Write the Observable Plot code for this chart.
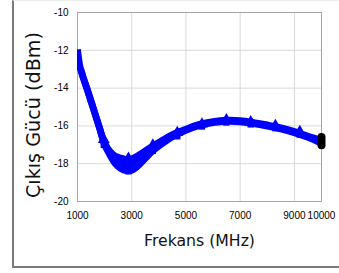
<!DOCTYPE html>
<html>
<head>
<meta charset="utf-8">
<script src="https://cdn.jsdelivr.net/npm/d3@7"></script>
<script src="https://cdn.jsdelivr.net/npm/@observablehq/plot@0.6"></script>
<style>
  html, body { margin: 0; padding: 0; background: #fff; }
  #wrap { position: relative; width: 339px; height: 273px; overflow: hidden; }
  #box { position: absolute; left: 12px; top: 0px; width: 330px; height: 265px;
         border-left: 2px solid #7a7a7a; border-bottom: 2px solid #7a7a7a; border-top: 1px solid #ececec; }
  #chart { position: absolute; left: 0; top: 0; }
</style>
</head>
<body>
<div id="wrap"><div id="box"></div><div id="chart"></div></div>
<script>
// Data
const freq = [1000, 1100, 1200, 1400, 1600, 1800, 2000, 2200, 2400, 2600, 2800, 3000, 3200, 3500, 3800, 4200, 4600, 5000, 5500, 6000, 6500, 7000, 7500, 8000, 8500, 9000, 9500, 10000];
const upperTrace = [-11.95, -12.92, -13.4, -14.25, -15.15, -16.05, -16.9, -17.35, -17.6, -17.7, -17.77, -17.75, -17.6, -17.32, -17.05, -16.7, -16.4, -16.17, -15.92, -15.77, -15.7, -15.72, -15.82, -15.95, -16.1, -16.3, -16.55, -16.76];
const lowerTrace = [-13.05, -12.98, -13.4, -14.25, -15.15, -16.05, -17.0, -17.55, -18.0, -18.26, -18.37, -18.35, -18.16, -17.72, -17.29, -16.86, -16.5, -16.23, -15.98, -15.83, -15.76, -15.78, -15.88, -16.01, -16.16, -16.36, -16.61, -16.92];

const markerFreq = [1970, 2880, 3780, 4680, 5590, 6490, 7390, 8300, 9200];
const markerUpper = [-16.72, -17.72, -17.02, -16.35, -15.9, -15.68, -15.78, -15.98, -16.3];
const markerLower = [-17.0, -18.4, -17.32, -16.55, -16.03, -15.82, -15.92, -16.12, -16.46];

const endFreq = 10000;
const endLow = -17.05;
const endHigh = -16.62;

const xTicks = [1000, 3000, 5000, 7000, 9000, 10000];
const yTicks = [-20, -18, -16, -14, -12, -10];
const xTitle = "Frekans (MHz)";
const yTitle = "Çıkış Gücü (dBm)";

const rows = freq.map((f, i) => ({f, up: upperTrace[i], lo: lowerTrace[i]}));
const traces = [
  ...rows.map(r => ({f: r.f, v: r.up, s: "upper"})),
  ...rows.map(r => ({f: r.f, v: r.lo, s: "lower"}))
];
const markers = markerFreq.map((f, i) => ({f, up: markerUpper[i], lo: markerLower[i]}));

const blue = "#0000ff";
const chart = Plot.plot({
  width: 339,
  height: 273,
  marginLeft: 77,
  marginRight: 18,
  marginTop: 12,
  marginBottom: 72,
  style: {fontFamily: "'Liberation Sans', Arial, sans-serif", fontSize: "10px", background: "transparent", color: "#000", overflow: "visible"},
  x: {domain: [1000, 10000]},
  y: {domain: [-20, -10]},
  marks: [
    Plot.gridX(xTicks, {stroke: "#d9d9d9", strokeOpacity: 1}),
    Plot.gridY(yTicks, {stroke: "#d9d9d9", strokeOpacity: 1}),
    Plot.frame({stroke: "#a6a6a6"}),
    Plot.axisX({ticks: xTicks, tickSize: 0, tickPadding: 10, tickFormat: d => String(d), label: null}),
    Plot.axisY({ticks: yTicks, tickSize: 0, tickPadding: 9, tickFormat: d => String(d), label: null}),
    Plot.areaY(rows, {x: "f", y1: "lo", y2: "up", fill: blue, curve: "catmull-rom", clip: true}),
    Plot.line(traces, {x: "f", y: "v", z: "s", stroke: blue, strokeWidth: 6.8, curve: "catmull-rom", strokeLinecap: "butt", strokeLinejoin: "round", clip: true}),
    Plot.dot(markers, {x: "f", y: "lo", symbol: "square", r: 3.6, fill: blue, stroke: "none"}),
    Plot.dot(markers, {x: "f", y: "up", symbol: "triangle", r: 4.4, fill: blue, stroke: "none"}),
    Plot.ruleX([endFreq], {x: d => d, y1: endLow, y2: endHigh, stroke: "#000", strokeWidth: 8, strokeLinecap: "round"}),
    Plot.text([xTitle], {text: d => d, frameAnchor: "bottom", lineAnchor: "middle", textAnchor: "middle", dy: 39, fontSize: 15.7, fontFamily: "'DejaVu Sans', sans-serif", fill: "#111"}),
    Plot.text([yTitle], {text: d => d, frameAnchor: "left", textAnchor: "middle", lineAnchor: "middle", dx: -44, dy: 8, rotate: -90, fontSize: 19.2, fontFamily: "'DejaVu Sans', sans-serif", fill: "#111"})
  ]
});
document.getElementById("chart").appendChild(chart);
</script>
</body>
</html>
